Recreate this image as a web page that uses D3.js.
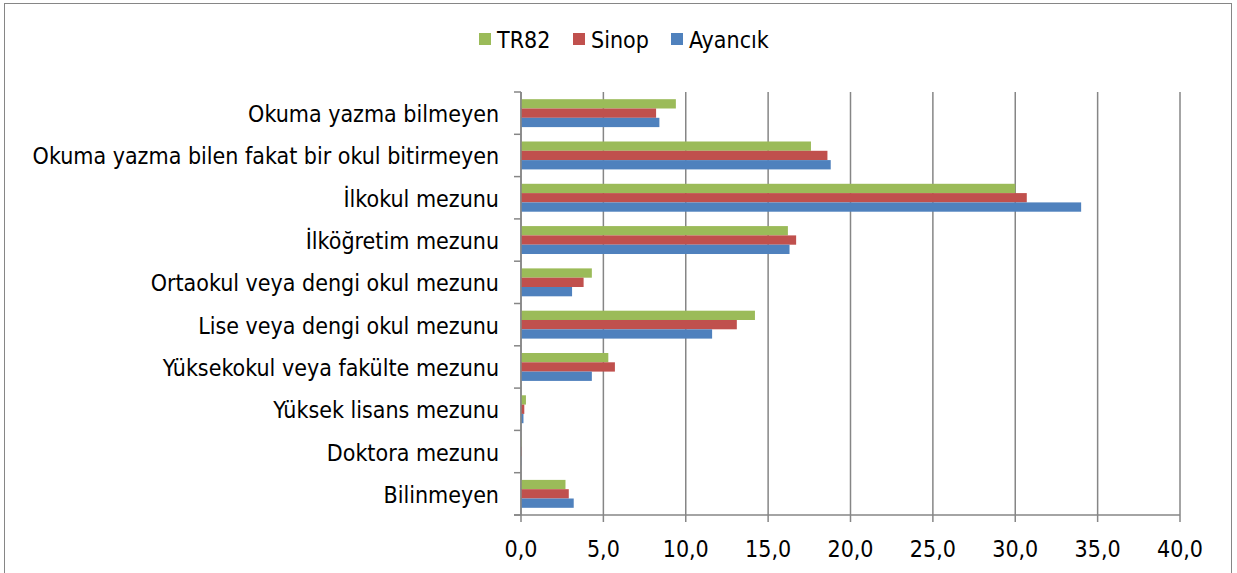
<!DOCTYPE html>
<html>
<head>
<meta charset="utf-8">
<script src="https://cdn.jsdelivr.net/npm/d3@7"></script>
<style>
  body { margin: 0; background: #fff; }
  text { font-family: "DejaVu Sans Condensed", "DejaVu Sans", sans-serif; fill: #000; }
</style>
</head>
<body>
<div id="chart"></div>
<script>
// categories (top to bottom)
const categories = [
  "Okuma yazma bilmeyen",
  "Okuma yazma bilen fakat bir okul bitirmeyen",
  "İlkokul mezunu",
  "İlköğretim mezunu",
  "Ortaokul veya dengi okul mezunu",
  "Lise veya dengi okul mezunu",
  "Yüksekokul veya fakülte mezunu",
  "Yüksek lisans mezunu",
  "Doktora mezunu",
  "Bilinmeyen"
];

const seriesNames = ["TR82", "Sinop", "Ayancık"];
const tr82 =    [9.4, 17.6, 30.0, 16.2, 4.3, 14.2, 5.3, 0.3, 0.03, 2.7];
const sinop =   [8.2, 18.6, 30.7, 16.7, 3.8, 13.1, 5.7, 0.2, 0.03, 2.9];
const ayancik = [8.4, 18.8, 34.0, 16.3, 3.1, 11.6, 4.3, 0.15, 0.02, 3.2];
const seriesValues = [tr82, sinop, ayancik];
const xTicks = [0, 5, 10, 15, 20, 25, 30, 35, 40];

const color = d3.scaleOrdinal()
  .domain(seriesNames)
  .range(["#9bbb59", "#c0504d", "#4f81bd"]);

const W = 1237, H = 573;
const plot = { left: 521, right: 1180, top: 92, bottom: 515 };

const svg = d3.select("#chart")
  .append("svg")
  .attr("width", W)
  .attr("height", H);

// outer frame
svg.append("rect")
  .attr("x", 4.5).attr("y", 3.5)
  .attr("width", 1227).attr("height", 600)
  .attr("fill", "none")
  .attr("stroke", "#868686")
  .attr("stroke-width", 1);

const x = d3.scaleLinear().domain([0, 40]).range([plot.left, plot.right]);
const y0 = d3.scaleBand().domain(categories).range([plot.top, plot.bottom]);
const gap = y0.bandwidth() * 0.34;
const y1 = d3.scaleBand().domain(seriesNames).range([gap / 2, y0.bandwidth() - gap / 2]);

// gridlines (with tick extension below axis)
svg.append("g")
  .selectAll("line")
  .data(xTicks)
  .join("line")
  .attr("x1", d => x(d)).attr("x2", d => x(d))
  .attr("y1", plot.top).attr("y2", plot.bottom + 7)
  .attr("stroke", "#868686")
  .attr("stroke-width", 1.5);

// bars
const rows = categories.map((c, i) => ({
  cat: c,
  vals: seriesNames.map((s, j) => ({ s, v: seriesValues[j][i] }))
}));

svg.append("g")
  .selectAll("g")
  .data(rows)
  .join("g")
  .attr("transform", d => `translate(0,${y0(d.cat)})`)
  .selectAll("rect")
  .data(d => d.vals)
  .join("rect")
  .attr("x", x(0))
  .attr("y", d => y1(d.s))
  .attr("width", d => x(d.v) - x(0))
  .attr("height", y1.bandwidth())
  .attr("fill", d => color(d.s));

// left axis line + tick marks at band boundaries
const bounds = categories.map(c => y0(c)).concat([plot.bottom]);
svg.append("line")
  .attr("x1", plot.left).attr("x2", plot.left)
  .attr("y1", plot.top).attr("y2", plot.bottom)
  .attr("stroke", "#868686").attr("stroke-width", 1.5);
svg.append("g")
  .selectAll("line")
  .data(bounds)
  .join("line")
  .attr("x1", plot.left - 7).attr("x2", plot.left)
  .attr("y1", d => d).attr("y2", d => d)
  .attr("stroke", "#868686").attr("stroke-width", 1.5);

// bottom axis line
svg.append("line")
  .attr("x1", plot.left - 7).attr("x2", plot.right)
  .attr("y1", plot.bottom).attr("y2", plot.bottom)
  .attr("stroke", "#868686").attr("stroke-width", 1.5);

// category labels
svg.append("g")
  .selectAll("text")
  .data(categories)
  .join("text")
  .attr("x", plot.left - 22)
  .attr("y", d => y0(d) + y0.bandwidth() / 2 + 9)
  .attr("text-anchor", "end")
  .style("font-size", "23px")
  .text(d => d);

// x tick labels
const fmt = d => d.toFixed(1).replace(".", ",");
svg.append("g")
  .selectAll("text")
  .data(xTicks)
  .join("text")
  .attr("x", d => x(d))
  .attr("y", 557)
  .attr("text-anchor", "middle")
  .style("font-size", "23px")
  .text(fmt);

// legend
const legendX = [479, 573, 671];
const legend = svg.append("g")
  .selectAll("g")
  .data(seriesNames)
  .join("g")
  .attr("transform", (d, i) => `translate(${legendX[i]}, 0)`);
legend.append("rect")
  .attr("x", 0).attr("y", 33)
  .attr("width", 12).attr("height", 12)
  .attr("fill", d => color(d));
legend.append("text")
  .attr("x", 18).attr("y", 48)
  .style("font-size", "23px")
  .text(d => d);
</script>
</body>
</html>
